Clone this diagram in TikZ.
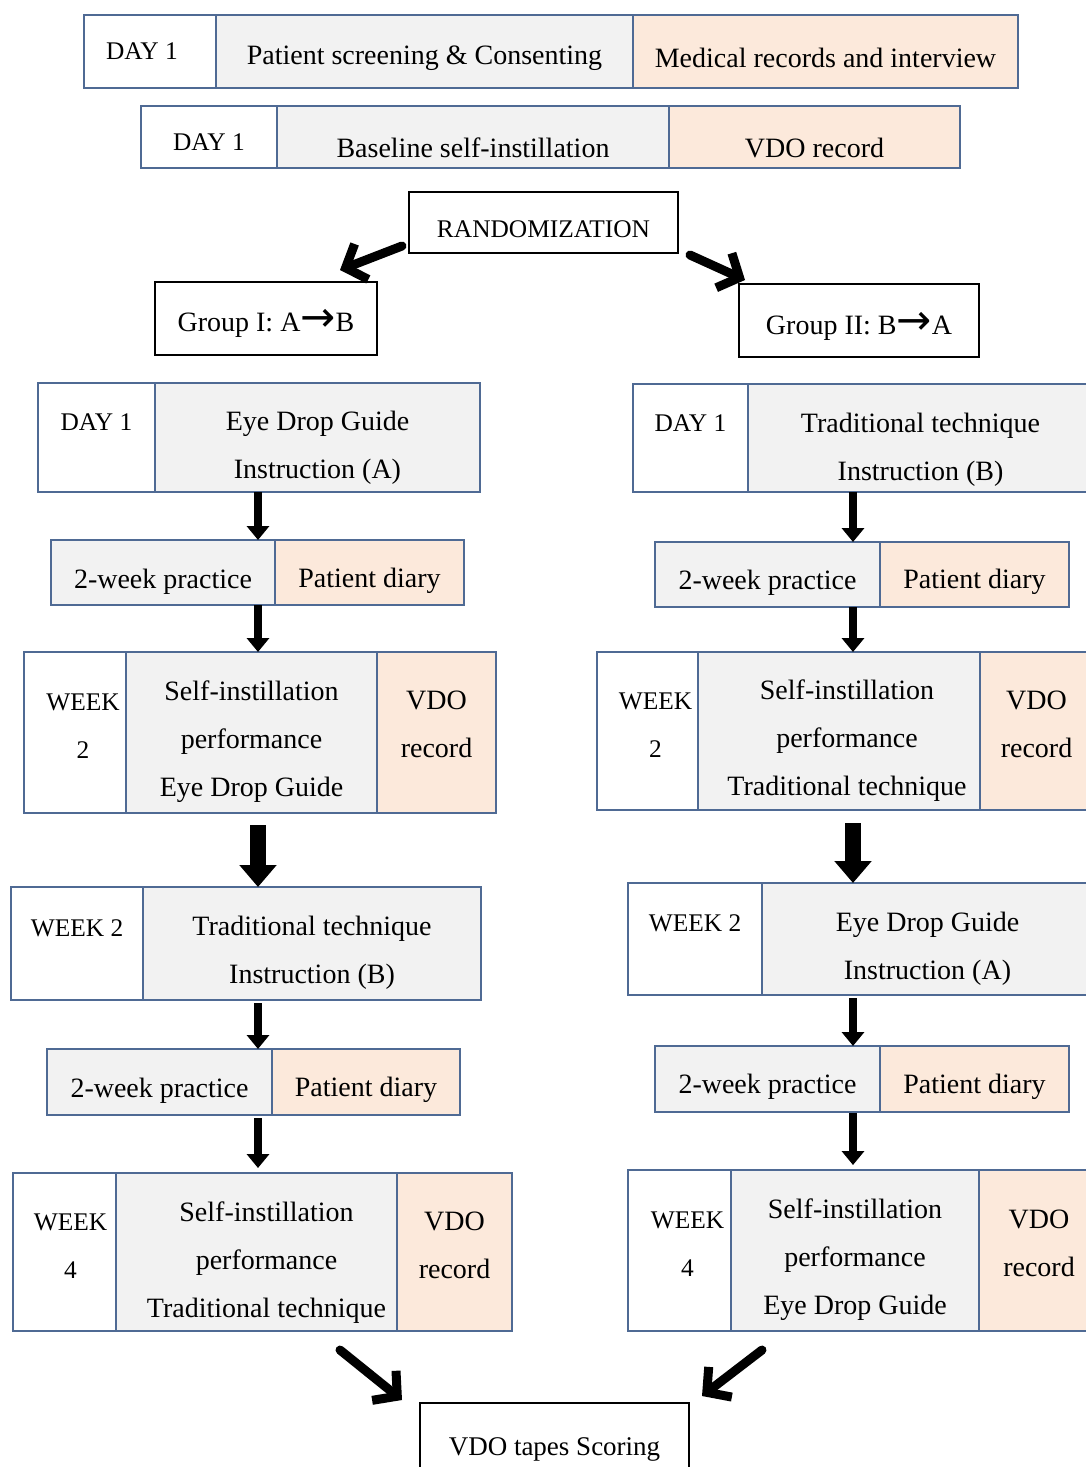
\documentclass[tikz,border=0pt]{standalone}
\usepackage{fontspec}
\setmainfont{Liberation Serif}
\newfontfamily\arrowfont{DejaVu Sans}
\usetikzlibrary{arrows.meta,positioning,calc}
\definecolor{tblue}{RGB}{79,106,148}
\definecolor{cgray}{RGB}{242,242,242}
\definecolor{cpeach}{RGB}{252,233,219}
\newcommand{\padtop}[1]{\rule{0pt}{#1}}
\newcommand{\padbot}[1]{\rule[-#1]{0pt}{#1}}
\newcommand{\arr}{{\arrowfont\fontsize{21}{21}\selectfont →}}

\begin{document}
\begin{tikzpicture}[x=0.5pt, y=-0.5pt,
  cell/.style={draw=tblue, line width=0.75pt, outer sep=0pt, inner sep=0pt,
    anchor=north west, align=center, font=\fontsize{14}{24}\selectfont},
  cellw/.style={cell, fill=white},
  cellg/.style={cell, fill=cgray},
  cellp/.style={cell, fill=cpeach},
  lab/.style={font=\fontsize{12.7}{24}\selectfont},
  bbox/.style={draw=black, line width=1pt, outer sep=0pt, inner sep=0pt,
    align=center},
  sarrow/.style={line width=4pt, -{Triangle[width=11pt,length=7pt]}},
  barrow/.style={line width=8pt, -{Triangle[width=18pt,length=11pt]}},
  darrow/.style={line width=4.5pt, line cap=round,
    -{Straight Barb[length=8.5pt,width=19pt]}}]
\useasboundingbox (0,0) rectangle (1086,1467);
\clip (0,0) rectangle (1086,1467);

% screening and baseline
\node[cellw, lab, minimum width=66pt, minimum height=36.5pt] (scrday) at (84,15) {DAY 1\hspace{8pt}};
\node[cellg, minimum width=208.5pt, minimum height=36.5pt] (screen) at (scrday.north east)
  {\padtop{16.5pt}Patient screening \& Consenting};
\node[cellp, minimum width=192.5pt, minimum height=36.5pt] (medrec) at (screen.north east)
  {\padtop{16.5pt}Medical records and interview};
\node[cellw, lab, minimum width=68pt, minimum height=31pt] (baseday) at (141,106) {\padtop{14pt}DAY 1};
\node[cellg, minimum width=196pt, minimum height=31pt] (baseline) at (baseday.north east)
  {\padtop{21pt}Baseline self-instillation};
\node[cellp, minimum width=145.5pt, minimum height=31pt] (basevdo) at (baseline.north east)
  {\padtop{21pt}VDO record};

\node[bbox, lab, minimum width=134.5pt, minimum height=30.5pt] (rand) at (543.5,222.5)
  {\padtop{15.5pt}RANDOMIZATION};
\node[bbox, font=\fontsize{14}{24}\selectfont, minimum width=111pt, minimum height=36.5pt]
  (grpone) at (266,318.5) {\padtop{15.5pt}Group I: A\arr B};
\node[bbox, font=\fontsize{14}{24}\selectfont, minimum width=120pt, minimum height=36.5pt]
  (grptwo) at (859,320.5) {\padtop{16.5pt}Group II: B\arr A};

% group I
\node[cellw, lab, minimum width=58.5pt, minimum height=54.5pt] (lday) at (38,383) {DAY 1\padbot{15.5pt}};
\node[cellg, minimum width=162.5pt, minimum height=54.5pt] (linstA) at (lday.north east)
  {\padtop{20pt}Eye Drop Guide\\Instruction (A)};
\node[cellg, minimum width=112pt, minimum height=32.5pt] (lpract) at (51,540) {\padtop{18.5pt}2-week practice};
\node[cellp, minimum width=94.5pt, minimum height=32.5pt] (ldiary) at (lpract.north east)
  {\padtop{18.5pt}Patient diary};
\node[cellw, lab, minimum width=51pt, minimum height=80.5pt] (lweek) at (24,652) {\hspace{8pt}WEEK\\\hspace{8pt}2\padbot{6.5pt}};
\node[cellg, minimum width=125.5pt, minimum height=80.5pt] (lperf) at (lweek.north east)
  {\padtop{19pt}Self-instillation\\performance\\Eye Drop Guide};
\node[cellp, minimum width=59.5pt, minimum height=80.5pt] (lvdo) at (lperf.north east)
  {VDO\\record\padbot{8.5pt}};
\node[cellw, lab, minimum width=66pt, minimum height=56.5pt] (lweekb) at (11,887) {WEEK 2\padbot{15.5pt}};
\node[cellg, minimum width=169pt, minimum height=56.5pt] (linstB) at (lweekb.north east)
  {\padtop{18.5pt}Traditional technique\\Instruction (B)};
\node[cellg, minimum width=112.5pt, minimum height=33pt] (lpractb) at (47,1049) {\padtop{18pt}2-week practice};
\node[cellp, minimum width=94pt, minimum height=33pt] (ldiaryb) at (lpractb.north east)
  {\padtop{18pt}Patient diary};
\node[cellw, lab, minimum width=51.5pt, minimum height=79pt] (lweekc) at (13,1173) {\hspace{6pt}WEEK\\\hspace{6pt}4\padbot{6pt}};
\node[cellg, minimum width=140.5pt, minimum height=79pt] (lperfb) at (lweekc.north east)
  {\padtop{20.5pt}\hspace{10pt}Self-instillation\\\hspace{10pt}performance\\\hspace{10pt}Traditional technique};
\node[cellp, minimum width=57.5pt, minimum height=79pt] (lvdob) at (lperfb.north east)
  {VDO\\record\padbot{7pt}};

% group II
\node[cellw, lab, minimum width=57.5pt, minimum height=54pt] (rday) at (633,384) {DAY 1\padbot{15pt}};
\node[cellg, minimum width=172.5pt, minimum height=54pt] (rinstB) at (rday.north east)
  {\padtop{21pt}Traditional technique\\Instruction (B)};
\node[cellg, minimum width=112.5pt, minimum height=32.5pt] (rpract) at (655,542) {\padtop{17.5pt}2-week practice};
\node[cellp, minimum width=94.5pt, minimum height=32.5pt] (rdiary) at (rpract.north east)
  {\padtop{17.5pt}Patient diary};
\node[cellw, lab, minimum width=50.5pt, minimum height=79pt] (rweek) at (597,652) {\hspace{8pt}WEEK\\\hspace{8pt}2\padbot{6pt}};
\node[cellg, minimum width=141pt, minimum height=79pt] (rperf) at (rweek.north east)
  {\padtop{19pt}\hspace{8pt}Self-instillation\\\hspace{8pt}performance\\\hspace{8pt}Traditional technique};
\node[cellp, minimum width=56.5pt, minimum height=79pt] (rvdo) at (rperf.north east)
  {VDO\\record\padbot{7pt}};
\node[cellw, lab, minimum width=67pt, minimum height=56pt] (rweekb) at (628,883) {WEEK 2\padbot{16pt}};
\node[cellg, minimum width=165.5pt, minimum height=56pt] (rinstA) at (rweekb.north east)
  {\padtop{19pt}Eye Drop Guide\\Instruction (A)};
\node[cellg, minimum width=112.5pt, minimum height=33pt] (rpractb) at (655,1046) {\padtop{17.5pt}2-week practice};
\node[cellp, minimum width=94.5pt, minimum height=33pt] (rdiaryb) at (rpractb.north east)
  {\padtop{17.5pt}Patient diary};
\node[cellw, lab, minimum width=51.5pt, minimum height=80.5pt] (rweekc) at (628,1170) {\hspace{8pt}WEEK\\\hspace{8pt}4\padbot{6.5pt}};
\node[cellg, minimum width=124pt, minimum height=80.5pt] (rperfb) at (rweekc.north east)
  {\padtop{19pt}Self-instillation\\performance\\Eye Drop Guide};
\node[cellp, minimum width=57pt, minimum height=80.5pt] (rvdob) at (rperfb.north east)
  {\hspace{3pt}VDO\\\hspace{3pt}record\padbot{7.5pt}};

\node[bbox, font=\fontsize{13.5}{24}\selectfont, minimum width=134.5pt, minimum height=43pt]
  (score) at (554.5,1446) {\padtop{12pt}VDO tapes Scoring};

% arrows
\coordinate (cl) at (258,0);
\coordinate (cr) at (853,0);
\draw[sarrow] (lday.south -| cl) -- (lpract.north -| cl);
\draw[sarrow] (lpract.south -| cl) -- (lweek.north -| cl);
\draw[barrow, shorten <=6pt] (lweek.south -| cl) -- (lweekb.north -| cl);
\draw[sarrow, shorten <=1.5pt] (lweekb.south -| cl) -- (lpractb.north -| cl);
\draw[sarrow, shorten <=1.5pt, shorten >=2.5pt] (lpractb.south -| cl) -- (lweekc.north -| cl);
\draw[sarrow] (rday.south -| cr) -- (rpract.north -| cr);
\draw[sarrow] (rpract.south -| cr) -- (rweek.north -| cr);
\draw[barrow, shorten <=6.5pt] (rweek.south -| cr) -- (rweekb.north -| cr);
\draw[sarrow, shorten <=1.5pt] (rweekb.south -| cr) -- (rpractb.north -| cr);
\draw[sarrow, shorten <=0.5pt, shorten >=2.5pt] (rpractb.south -| cr) -- (rweekc.north -| cr);

\draw[darrow] ($(rand.south west)+(-7,-7)$) -- ($(grpone.north east)+(-37,-12)$);
\draw[darrow] ($(rand.south east)+(12,2)$) -- ($(grptwo.north west)+(6,-4)$);
\draw[darrow] ($(lperfb.south east)+(-57,19)$) -- ($(score.north west)+(-18,-3)$);
\draw[darrow] ($(rperfb.south west)+(31,19)$) -- ($(score.north east)+(13,-7)$);
\end{tikzpicture}
\end{document}
